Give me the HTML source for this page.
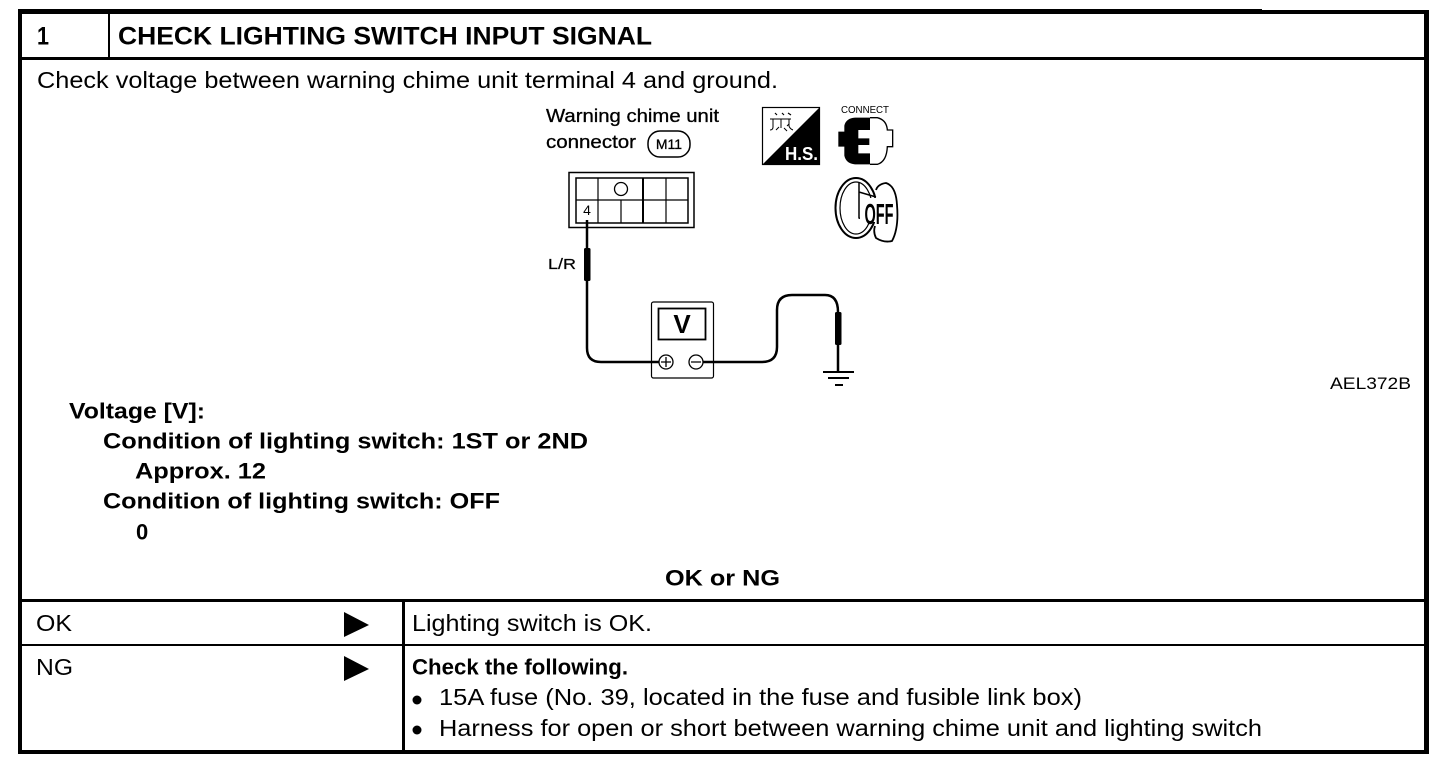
<!DOCTYPE html>
<html><head><meta charset="utf-8"><style>
html,body{margin:0;padding:0;background:#fff;width:1456px;height:768px;overflow:hidden}
svg{display:block}
text{font-family:"Liberation Sans",sans-serif;fill:#000}
.b{font-weight:bold;font-size:22px}
.n{font-size:23px}
</style></head><body>
<svg width="1456" height="768" viewBox="0 0 1456 768" xmlns="http://www.w3.org/2000/svg">
<rect width="1456" height="768" fill="#fff"/>
<!-- table frame -->
<g fill="#000">
<rect x="18" y="9" width="1244" height="5"/>
<rect x="1262" y="10" width="167" height="4"/>
<rect x="18" y="9" width="4" height="745"/>
<rect x="1424" y="10" width="5" height="744"/>
<rect x="18" y="750" width="1411" height="4"/>
<rect x="18" y="57" width="1408" height="3"/>
<rect x="108" y="12" width="2" height="46"/>
<rect x="18" y="599" width="1408" height="3"/>
<rect x="18" y="644" width="1408" height="2"/>
<rect x="402" y="600" width="3" height="152"/>
<polygon points="344,612 369,625 344,637"/>
<polygon points="344,656 369,669 344,681"/>
<circle cx="417" cy="700" r="4.5"/>
<circle cx="417" cy="730" r="4.5"/>
</g>
<!-- table text -->
<text class="b" x="37" y="44.5" style="font-size:25px" textLength="12" lengthAdjust="spacingAndGlyphs">1</text>
<text class="b" x="118" y="44.5" style="font-size:25px" textLength="534" lengthAdjust="spacingAndGlyphs">CHECK LIGHTING SWITCH INPUT SIGNAL</text>
<text class="n" x="37" y="88" textLength="741" lengthAdjust="spacingAndGlyphs">Check voltage between warning chime unit terminal 4 and ground.</text>
<text class="b" x="69" y="418.500" textLength="136" lengthAdjust="spacingAndGlyphs">Voltage [V]:</text>
<text class="b" x="103" y="448.500" textLength="485" lengthAdjust="spacingAndGlyphs">Condition of lighting switch: 1ST or 2ND</text>
<text class="b" x="135" y="478.500" textLength="131" lengthAdjust="spacingAndGlyphs">Approx. 12</text>
<text class="b" x="103" y="508.500" textLength="397" lengthAdjust="spacingAndGlyphs">Condition of lighting switch: OFF</text>
<text class="b" x="136" y="539.500">0</text>
<text class="b" x="665" y="585.500" textLength="115" lengthAdjust="spacingAndGlyphs">OK or NG</text>
<text class="n" x="36" y="631" textLength="36" lengthAdjust="spacingAndGlyphs">OK</text>
<text class="n" x="412" y="631" textLength="240" lengthAdjust="spacingAndGlyphs">Lighting switch is OK.</text>
<text class="n" x="36" y="675" textLength="37" lengthAdjust="spacingAndGlyphs">NG</text>
<text class="b" x="412" y="674.500" textLength="216" lengthAdjust="spacingAndGlyphs">Check the following.</text>
<text class="n" x="439" y="705" textLength="643" lengthAdjust="spacingAndGlyphs">15A fuse (No. 39, located in the fuse and fusible link box)</text>
<text class="n" x="439" y="736" textLength="823" lengthAdjust="spacingAndGlyphs">Harness for open or short between warning chime unit and lighting switch</text>
<text x="1330" y="389" style="font-size:17px" textLength="81" lengthAdjust="spacingAndGlyphs">AEL372B</text>
<!-- connector label -->
<text x="546" y="122" style="font-size:18px;stroke:#000;stroke-width:.3" textLength="173" lengthAdjust="spacingAndGlyphs">Warning chime unit</text>
<text x="546" y="148" style="font-size:18px;stroke:#000;stroke-width:.3" textLength="90" lengthAdjust="spacingAndGlyphs">connector</text>
<rect x="648" y="131" width="42" height="26" rx="12" fill="#fff" stroke="#000" stroke-width="1.5"/>
<text x="669" y="149" text-anchor="middle" style="font-size:14px;stroke:#000;stroke-width:.3">M11</text>
<text x="548" y="269" style="font-size:15px;stroke:#000;stroke-width:.2" textLength="28" lengthAdjust="spacingAndGlyphs">L/R</text>
<!-- connector -->
<g fill="none" stroke="#000">
<rect x="569" y="172.500" width="125" height="55" stroke-width="1.500"/>
<rect x="576" y="178" width="112" height="45" stroke-width="1.500"/>
<path d="M576 200H688M598 178V223M621 200V223M666 178V223" stroke-width="1.200"/>
<path d="M643 178V223" stroke-width="2"/>
<circle cx="621" cy="189" r="6.500" stroke-width="1.300"/>
</g>
<text x="587" y="215" text-anchor="middle" style="font-size:14px">4</text>
<!-- wires -->
<g fill="none" stroke="#000" stroke-linecap="butt">
<path d="M587 220V248" stroke-width="2.500"/>
<path d="M587 280V348Q587 362 601 362H659" stroke-width="2.500"/>
<path d="M703 362H762Q777 362 777 347V310Q777 295 792 295H825Q838 295 838 312" stroke-width="2.500"/>
<path d="M838 345V372" stroke-width="2.500"/>
<path d="M823 372H854" stroke-width="2"/>
<path d="M828 378H849" stroke-width="2"/>
<path d="M835 385H843" stroke-width="2"/>
</g>
<rect x="584" y="248" width="6.500" height="33" rx="1.500" fill="#000"/>
<rect x="835" y="312" width="6.500" height="33" rx="1.500" fill="#000"/>
<!-- meter -->
<rect x="651.500" y="302" width="62" height="76" rx="2" fill="#fff" stroke="#000" stroke-width="1.200"/>
<rect x="658.500" y="308.500" width="47" height="31" fill="#fff" stroke="#000" stroke-width="1.800"/>
<text x="682" y="333" text-anchor="middle" style="font-size:26px;font-weight:bold">V</text>
<g fill="none" stroke="#000" stroke-width="1.300">
<circle cx="666" cy="362" r="7"/>
<circle cx="696" cy="362" r="7"/>
<path d="M661 362H671M666 357V367M691 362H701"/>
</g>
<path d="M651 362H659M703 362H713" stroke="#000" stroke-width="2.500"/>
<!-- H.S. icon -->
<rect x="762.500" y="107.500" width="57" height="57" fill="#fff" stroke="#000" stroke-width="1.200"/>
<polygon points="820,107 820,165 762,165" fill="#000"/>
<text x="785" y="160" style="font-size:18px;font-weight:bold;fill:#fff" textLength="33" lengthAdjust="spacingAndGlyphs">H.S.</text>
<g fill="none" stroke="#000" stroke-width="1">
<path d="M770 119H791M773 119V127Q773 130 770 130M781 119V128M789 119V126Q790 129 793 130"/>
<path d="M775 113L777 115M782 113L784 115M788 113L791 115" stroke-width="1.200"/>
<path d="M776 130L779 127M784 128L787 131M789 124L787 126"/>
</g>
<!-- connect icon -->
<text x="865" y="113" text-anchor="middle" style="font-size:10px" textLength="48" lengthAdjust="spacingAndGlyphs">CONNECT</text>
<g transform="translate(530 95) scale(.33333)">
<path d="M1020 68H1042Q1070 75 1072 105H1088V155H1072Q1070 200 1042 208H1020" fill="#fff" stroke="#000" stroke-width="4"/>
<path d="M943 110V92Q948 70 975 68H1020V105H985V130H1018V150H985V175H1020V208H975Q948 206 943 182V155H925V110Z" fill="#000"/>
</g>
<!-- key icon -->
<g fill="none" stroke="#000" stroke-width="1.500">
<ellipse cx="856" cy="208" rx="20.500" ry="30" stroke-width="2"/>
<ellipse cx="856" cy="208" rx="16" ry="26" stroke-width="1.200"/>
<path d="M876 190Q878 184 886 183Q896 186 897 205Q899 228 892 241Q884 243 876 238Q873 232 875 226" fill="#fff" stroke-width="1.800"/>
<path d="M859 183V218L874 223M859 192L876 197" fill="none" stroke-width="1.500"/>
</g>
<rect x="860" y="198" width="16" height="24" fill="#fff"/>
<text x="864.500" y="224" style="font-size:29px;font-weight:bold" textLength="29" lengthAdjust="spacingAndGlyphs">OFF</text>
</svg>
</body></html>
